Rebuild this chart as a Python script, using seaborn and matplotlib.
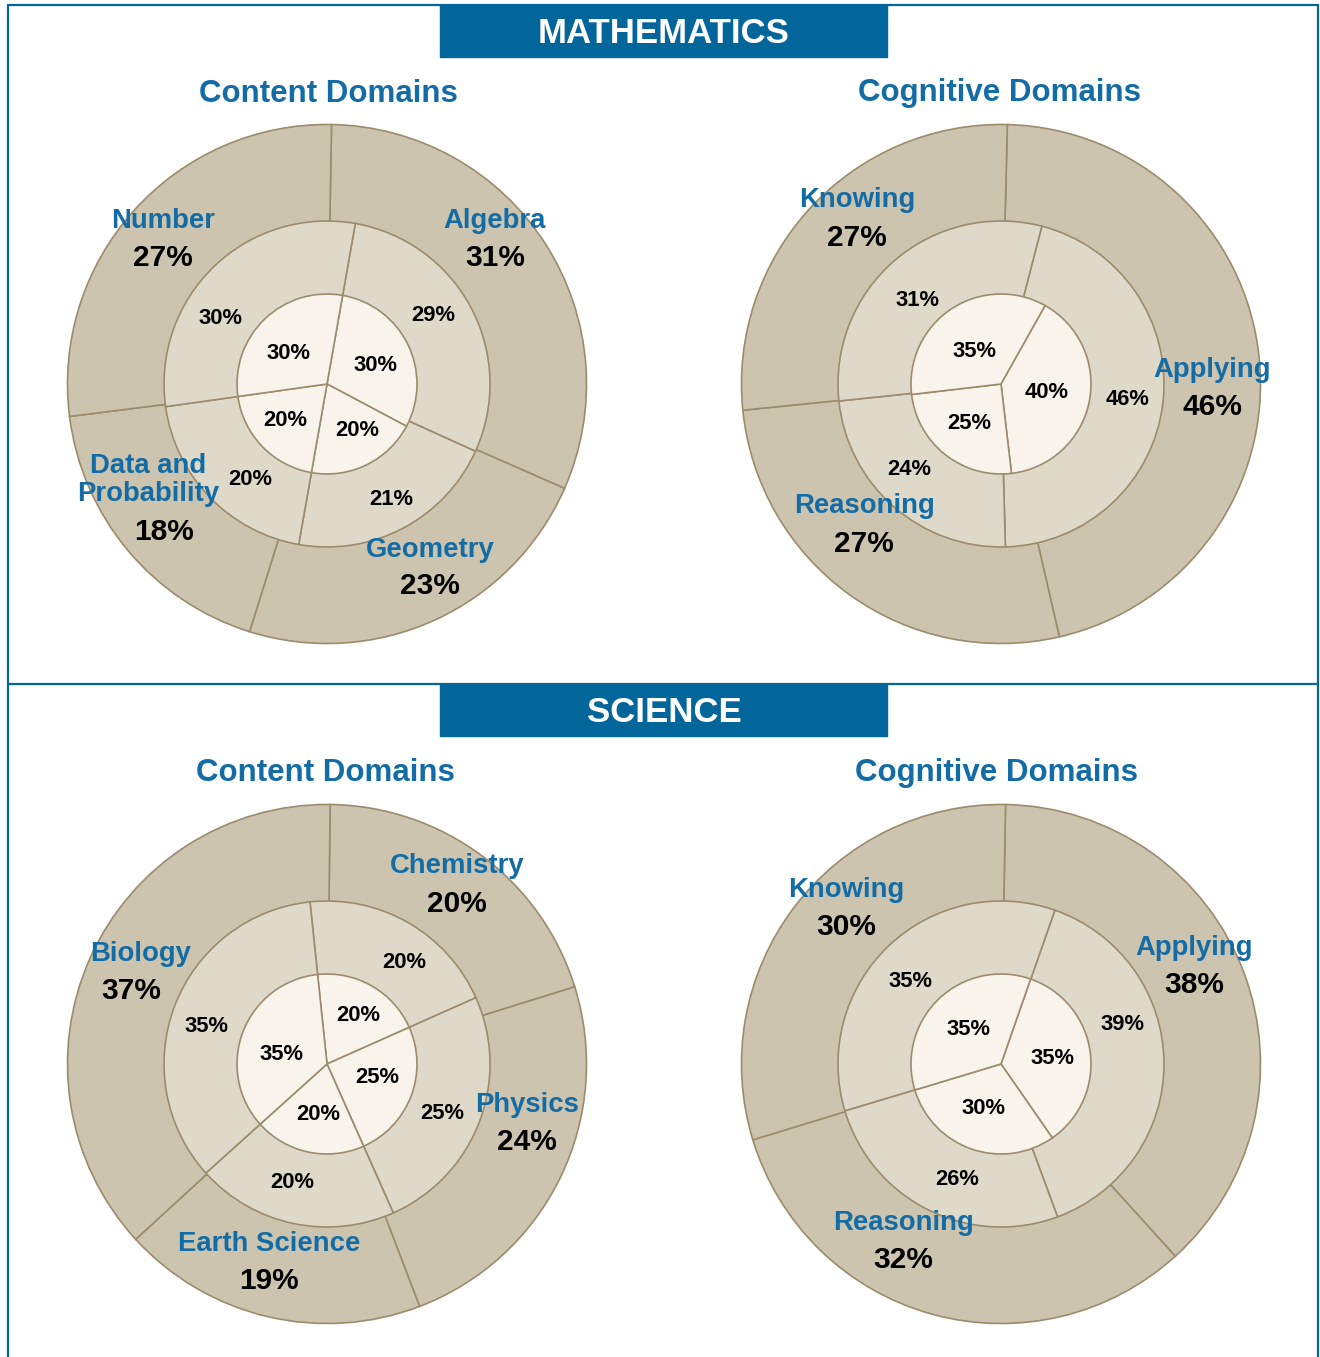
import matplotlib
matplotlib.use("Agg")
import matplotlib.pyplot as plt
import seaborn as sns

# -------------------------------
# Data
# -------------------------------

math_content_names = ["Algebra", "Geometry", "Data and\nProbability", "Number"]
math_content_outer = [31, 23, 18, 27]
math_content_mid = [29, 21, 20, 30]
math_content_inner = [30, 20, 20, 30]

math_cog_names = ["Applying", "Reasoning", "Knowing"]
math_cog_outer = [46, 27, 27]
math_cog_mid = [46, 24, 31]
math_cog_inner = [40, 25, 35]

sci_content_names = ["Chemistry", "Physics", "Earth Science", "Biology"]
sci_content_outer = [20, 24, 19, 37]
sci_content_mid = [20, 25, 20, 35]
sci_content_inner = [20, 25, 20, 35]

sci_cog_names = ["Applying", "Reasoning", "Knowing"]
sci_cog_outer = [38, 32, 30]
sci_cog_mid = [39, 26, 35]
sci_cog_inner = [35, 30, 35]

# -------------------------------
# Style
# -------------------------------

W, H = 1320, 1357
R = 259.5
R_MID = 163.0 / R
R_IN = 90.0 / R
LIM = 1.005
DY = 2.5  # small downward nudge for centred text

BLUE = "#03669b"
LABEL_BLUE = "#136ca6"
OUTER = "#ccc4ae"
MID = "#dfd9c9"
INNER = "#f8f4eb"
EDGE = "#9c8b6c"

sns.set_theme(style="white")
plt.rcParams["font.family"] = ["Liberation Sans", "DejaVu Sans"]
plt.rcParams["font.weight"] = "bold"

fig = plt.figure(figsize=(W / 100, H / 100), dpi=100)
fig.patch.set_facecolor("white")


def fx(x):
    return x / W


def fy(y):
    return 1 - y / H


# panel frame lines
frame = dict(color=BLUE, lw=1.6, transform=fig.transFigure)
fig.add_artist(plt.Line2D([fx(8), fx(8)], [fy(5), fy(1357)], **frame))
fig.add_artist(plt.Line2D([fx(1318), fx(1318)], [fy(5), fy(1357)], **frame))
fig.add_artist(plt.Line2D([fx(8), fx(1318)], [fy(5), fy(5)], **frame))
fig.add_artist(plt.Line2D([fx(8), fx(1318)], [fy(684), fy(684)], **frame))

# title bars
for title, top in [("MATHEMATICS", 5), ("SCIENCE", 684)]:
    fig.add_artist(plt.Rectangle((fx(440), fy(top + 52)), fx(447), 52 / H,
                                 color=BLUE, transform=fig.transFigure))
    fig.text(fx(664), fy(top + 26 + DY), title, color="white", fontsize=25,
             ha="center", va="center", fontweight="bold")

# subtitles
for txt, x, y in [("Content Domains", 328, 91), ("Cognitive Domains", 1000, 91),
                  ("Content Domains", 325, 770), ("Cognitive Domains", 997, 770)]:
    fig.text(fx(x), fy(y + DY), txt, color=LABEL_BLUE, fontsize=22.5,
             ha="center", va="center", fontweight="bold")


def ring_chart(cx, cy, outer, mid, inner, starts):
    ax = fig.add_axes([fx(cx - R * LIM), fy(cy + R * LIM),
                       2 * R * LIM / W, 2 * R * LIM / H])
    wp = dict(edgecolor=EDGE, linewidth=1.2)
    ax.pie(outer, radius=1.0, colors=[OUTER] * len(outer),
           startangle=90 - starts[0], counterclock=False, wedgeprops=wp)
    ax.pie(mid, radius=R_MID, colors=[MID] * len(mid),
           startangle=90 - starts[1], counterclock=False, wedgeprops=wp)
    ax.pie(inner, radius=R_IN, colors=[INNER] * len(inner),
           startangle=90 - starts[2], counterclock=False, wedgeprops=wp)
    ax.set_xlim(-LIM, LIM)
    ax.set_ylim(-LIM, LIM)
    ax.axis("off")
    return ax


def put(ax, cx, cy, x, y, txt, color="black", size=15):
    ax.text((x - cx) / R, (cy - y - DY) / R, txt, color=color, fontsize=size,
            ha="center", va="center", fontweight="bold", linespacing=1.1)


def big_labels(ax, cx, cy, names, values, spots):
    for name, val, (x1, y1, x2, y2) in zip(names, values, spots):
        put(ax, cx, cy, x1, y1, name, LABEL_BLUE, 19.8)
        put(ax, cx, cy, x2, y2, f"{val}%", "black", 21.5)


def small_labels(ax, cx, cy, values, spots):
    for val, (x, y) in zip(values, spots):
        put(ax, cx, cy, x, y, f"{val}%", "black", 15.8)


# -------------------------------
# Mathematics - content
# -------------------------------
cx, cy = 327, 384
ax = ring_chart(cx, cy, math_content_outer, math_content_mid, math_content_inner,
                (1, 10, 10))
big_labels(ax, cx, cy, math_content_names, math_content_outer,
           [(495, 219, 495, 256), (430, 548, 430, 584),
            (148, 478, 164, 530), (163, 219, 163, 256)])
small_labels(ax, cx, cy, math_content_mid,
             [(433, 313), (391, 497), (250, 477), (221, 316)])
small_labels(ax, cx, cy, math_content_inner,
             [(376, 363), (357, 428), (285, 418), (289, 351)])

# -------------------------------
# Mathematics - cognitive
# -------------------------------
cx, cy = 1001, 384
ax = ring_chart(cx, cy, math_cog_outer, math_cog_mid, math_cog_inner,
                (1.4, 14.5, 29.3))
big_labels(ax, cx, cy, math_cog_names, math_cog_outer,
           [(1212, 368, 1212, 405), (864, 504, 864, 542), (857, 198, 857, 236)])
small_labels(ax, cx, cy, math_cog_mid, [(1128, 397), (909, 467), (918, 298)])
small_labels(ax, cx, cy, math_cog_inner, [(1047, 390), (969, 421), (975, 349)])

# -------------------------------
# Science - content
# -------------------------------
cx, cy = 327, 1064
ax = ring_chart(cx, cy, sci_content_outer, sci_content_mid, sci_content_inner,
                (0.7, -6, -6))
big_labels(ax, cx, cy, sci_content_names, sci_content_outer,
           [(457, 864, 457, 901), (527, 1103, 527, 1140),
            (269, 1242, 269, 1279), (141, 952, 131, 989)])
small_labels(ax, cx, cy, sci_content_mid,
             [(404, 960), (442, 1111), (292, 1180), (207, 1024)])
small_labels(ax, cx, cy, sci_content_inner,
             [(358, 1013), (377, 1075), (318, 1112), (282, 1052)])

# -------------------------------
# Science - cognitive
# -------------------------------
cx, cy = 1001, 1064
ax = ring_chart(cx, cy, sci_cog_outer, sci_cog_mid, sci_cog_inner,
                (1, 19.3, 19.2))
big_labels(ax, cx, cy, sci_cog_names, sci_cog_outer,
           [(1194, 946, 1194, 983), (903, 1220, 903, 1257), (846, 888, 846, 925)])
small_labels(ax, cx, cy, sci_cog_mid, [(1123, 1022), (957, 1177), (911, 979)])
small_labels(ax, cx, cy, sci_cog_inner, [(1053, 1056), (984, 1106), (969, 1027)])

fig.savefig("out.png", dpi=100, facecolor="white")
